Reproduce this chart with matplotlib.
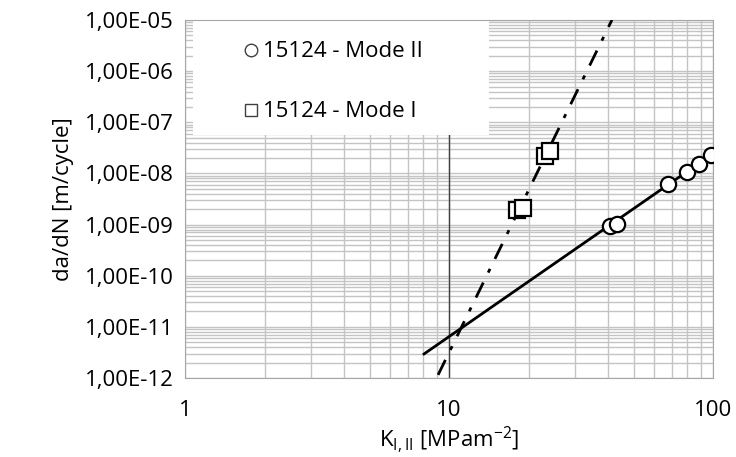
import matplotlib.pyplot as plt
from matplotlib.lines import Line2D
from matplotlib.patches import Rectangle
from matplotlib.ticker import LogLocator, NullFormatter

plt.rcParams['font.family'] = ['Open Sans', 'DejaVu Sans']
plt.rcParams['mathtext.fontset'] = 'custom'
plt.rcParams['mathtext.rm'] = 'Open Sans'

# Mode II (circles)
k_mode2 = [40.7, 43.3, 67.6, 79.7, 88.5, 98.2]
dadn_mode2 = [9.4e-10, 1.02e-9, 6.2e-9, 1.07e-8, 1.53e-8, 2.29e-8]
fit2_k = [8.04, 98.2]
fit2_dadn = [2.95e-12, 2.29e-8]

# Mode I (squares)
k_mode1 = [18.1, 19.1, 23.1, 24.1]
dadn_mode1 = [1.93e-9, 2.1e-9, 2.2e-8, 2.75e-8]
fit1_k = [9.09, 41.4]
fit1_dadn = [1.15e-12, 1.0e-5]

y_ticks = [1e-12, 1e-11, 1e-10, 1e-9, 1e-8, 1e-7, 1e-6, 1e-5]
y_labels = ['1,00E-12', '1,00E-11', '1,00E-10', '1,00E-09',
            '1,00E-08', '1,00E-07', '1,00E-06', '1,00E-05']
x_ticks = [1, 10, 100]
x_labels = ['1', '10', '100']

fig = plt.figure(figsize=(7.36, 4.57), dpi=100)
ax = fig.add_axes([0.2514, 0.1729, 0.7174, 0.7833])
ax.set_xscale('log')
ax.set_yscale('log')
ax.set_xlim(1, 100)
ax.set_ylim(1e-12, 1e-5)

grid_c = '#c4c4c4'
ax.set_xticks(x_ticks)
ax.set_xticklabels(x_labels)
ax.set_yticks(y_ticks)
ax.set_yticklabels(y_labels)
ax.xaxis.set_minor_locator(LogLocator(base=10, subs=range(2, 10)))
ax.yaxis.set_minor_locator(LogLocator(base=10, subs=range(2, 10), numticks=20))
ax.xaxis.set_minor_formatter(NullFormatter())
ax.yaxis.set_minor_formatter(NullFormatter())
ax.grid(True, which='both', color=grid_c, linewidth=1.0)
ax.set_axisbelow(True)
ax.tick_params(axis='both', which='both', direction='in', colors=grid_c,
               labelcolor='black', labelsize=16)
ax.tick_params(axis='y', which='major', length=0, pad=8)
ax.tick_params(axis='x', which='major', length=0, pad=16)
ax.tick_params(axis='y', which='minor', length=8)
ax.tick_params(axis='x', which='minor', length=0)
for s in ax.spines.values():
    s.set_color('#a6a6a6')
ax.axvline(10, color='#404040', linewidth=1.0, zorder=1.5)

# legend background
ax.add_patch(Rectangle((0.015, 0.679), 0.561, 0.321, transform=ax.transAxes,
                       facecolor='white', edgecolor='none', zorder=2))

ax.plot(fit2_k, fit2_dadn, color='black', linewidth=2, zorder=3)
ax.plot(fit1_k, fit1_dadn, color='black', linewidth=2,
        dashes=(6, 4, 1.5, 4), zorder=3)
ax.plot(k_mode2, dadn_mode2, 'o', markersize=11, markerfacecolor='white',
        markeredgecolor='black', markeredgewidth=1.6, zorder=4)
ax.plot(k_mode1, dadn_mode1, 's', markersize=11, markerfacecolor='white',
        markeredgecolor='black', markeredgewidth=1.6, zorder=4)

handles = [
    Line2D([], [], linestyle='none', marker='o', markersize=9,
           markerfacecolor='white', markeredgecolor='#404040', markeredgewidth=1),
    Line2D([], [], linestyle='none', marker='s', markersize=9,
           markerfacecolor='white', markeredgecolor='#404040', markeredgewidth=1),
]
leg = ax.legend(handles, ['15124 - Mode II', '15124 - Mode I'],
                loc='upper left', bbox_to_anchor=(0.095, 0.965), frameon=False,
                fontsize=16, handlelength=0.6, handletextpad=0.25,
                labelspacing=1.75, borderaxespad=0)
leg.set_zorder(5)

ax.set_ylabel('da/dN [m/cycle]', fontsize=16, labelpad=8)
ax.set_xlabel(r'K$_{\mathregular{I,II}}$ [MPam$^{\mathregular{-2}}$]',
              fontsize=16, labelpad=2)

fig.savefig('out.png', dpi=100)
